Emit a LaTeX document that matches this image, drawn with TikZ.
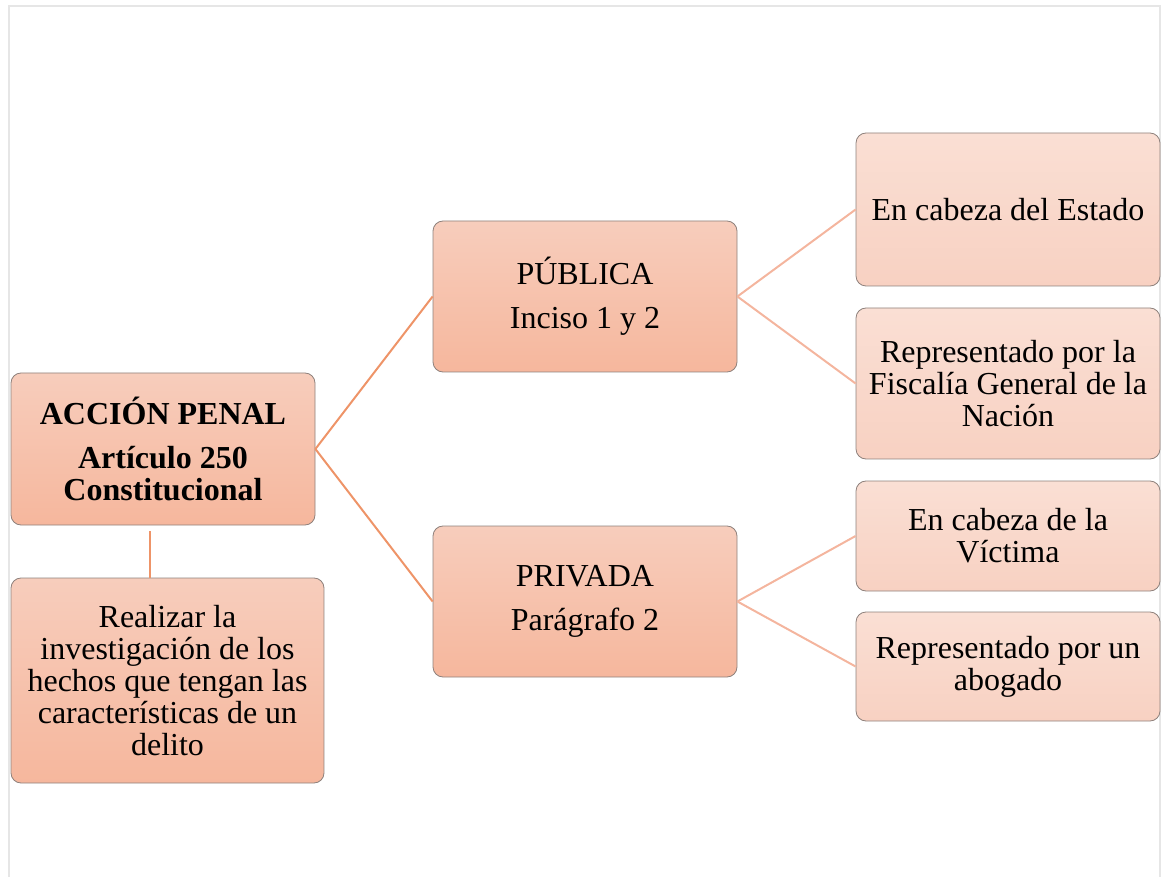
\documentclass[tikz,border=0pt]{standalone}
\usepackage{fontspec}
\setmainfont{Liberation Serif}
\usetikzlibrary{shapes,positioning}
\usepackage{xcolor}

\definecolor{boxline}{HTML}{8E817C}
\definecolor{darktop}{HTML}{F7CDBC}
\definecolor{darkbot}{HTML}{F6B79D}
\definecolor{lighttop}{HTML}{FADFD4}
\definecolor{lightbot}{HTML}{F8D1C2}
\definecolor{trunkline}{HTML}{EE9468}
\definecolor{twigline}{HTML}{F4B59E}
\definecolor{pageline}{HTML}{E6E6E6}

\begin{document}
\begin{tikzpicture}[x=0.5pt, y=-0.5pt]

  % Define styles for boxes and links
  \tikzstyle{mainbox} = [rectangle, rounded corners=5pt, draw=boxline, line width=0.4pt, top color=darktop, bottom color=darkbot, align=center, inner sep=0pt, minimum width=152pt, font=\fontsize{16}{16}\selectfont]
  \tikzstyle{leafbox} = [mainbox, top color=lighttop, bottom color=lightbot]
  \tikzstyle{trunk} = [draw=trunkline, line width=1pt]
  \tikzstyle{twig} = [draw=twigline, line width=1pt]

  % Page frame
  \useasboundingbox (0,0) rectangle (1163,877);
  \draw[pageline, line width=1pt] (9,877) -- (9,6) -- (1160,6) -- (1160,877);

  % Left column
  \node[mainbox, minimum height=76pt] (accion) at (163,449) {\textbf{ACCIÓN PENAL}\\[6pt]\textbf{Artículo 250}\\\textbf{Constitucional}};
  \node[mainbox, minimum width=156.5pt, minimum height=102.5pt] (objeto) at (167.5,680.5) {Realizar la\\investigación de los\\hechos que tengan las\\características de un\\delito};

  % Middle column
  \node[mainbox, minimum height=75.5pt] (publica) at (585,296.5) {PÚBLICA\\[6pt]Inciso 1 y 2};
  \node[mainbox, minimum height=75.5pt] (privada) at (585,601.5) {PRIVADA\\[6pt]Parágrafo 2};

  % Right column
  \node[leafbox, minimum height=76.5pt] (estado) at (1008,209.5) {En cabeza del Estado};
  \node[leafbox, minimum height=75.5pt] (fiscalia) at (1008,383.5) {Representado por la\\Fiscalía General de la\\Nación};
  \node[leafbox, minimum height=55pt] (victima) at (1008,536) {En cabeza de la\\Víctima};
  \node[leafbox, minimum height=54.5pt] (abogado) at (1008,666.5) {Representado por un\\abogado};

  % Links
  \coordinate (drop) at (150,531);
  \draw[trunk] (drop) -- (drop |- objeto.north);
  \draw[trunk] (accion.east) -- (publica.west);
  \draw[trunk] (accion.east) -- (privada.west);

  \draw[twig] (publica.east) -- (estado.west);
  \draw[twig] (publica.east) -- (fiscalia.west);
  \draw[twig] (privada.east) -- (victima.west);
  \draw[twig] (privada.east) -- (abogado.west);

\end{tikzpicture}
\end{document}
